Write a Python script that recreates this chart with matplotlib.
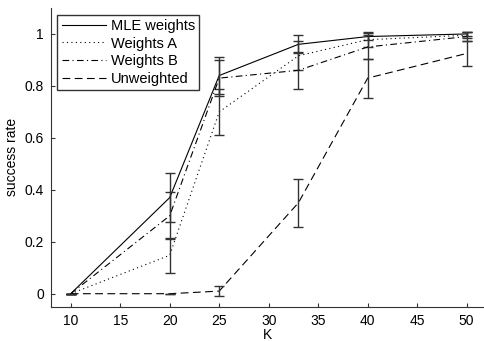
import numpy as np
import matplotlib
matplotlib.use('Agg')
import matplotlib.pyplot as plt

plt.rcParams['font.family'] = ['Liberation Sans', 'DejaVu Sans']

K = [10, 20, 25, 33, 40, 50]

mle = [0.0, 0.37, 0.84, 0.96, 0.99, 1.0]
mle_err = [0.0, 0.095, 0.07, 0.035, 0.015, 0.008]

weights_a = [0.0, 0.148, 0.70, 0.916, 0.978, 0.995]
weights_a_err = [0.0, 0.068, 0.09, 0.055, 0.028, 0.012]

weights_b = [0.0, 0.30, 0.83, 0.86, 0.95, 0.99]
weights_b_err = [0.0, 0.09, 0.07, 0.07, 0.046, 0.017]

unweighted = [0.0, 0.0, 0.01, 0.35, 0.83, 0.925]
unweighted_err = [0.0, 0.0, 0.02, 0.093, 0.075, 0.047]

series = [
    ('MLE weights', mle, mle_err, '-'),
    ('Weights A', weights_a, weights_a_err, (0, (1, 3))),
    ('Weights B', weights_b, weights_b_err, (0, (6, 3, 1, 3))),
    ('Unweighted', unweighted, unweighted_err, (0, (7, 4))),
]

fig = plt.figure(figsize=(4.85, 3.41), dpi=100)
ax = fig.add_axes([0.105, 0.1006, 0.895, 0.876])

for label, vals, err, ls in series:
    ax.plot(K, vals, color='black', linestyle=ls, linewidth=0.8, label=label)
    ax.errorbar(K, vals, yerr=err, fmt='none', ecolor='#333333',
                elinewidth=1.0, capsize=3.5, capthick=1.0)

ax.set_xlim(8, 51.85)
ax.set_ylim(-0.05, 1.1)
ax.set_xticks([10, 15, 20, 25, 30, 35, 40, 45, 50])
ax.set_yticks([0, 0.2, 0.4, 0.6, 0.8, 1.0])
ax.set_yticklabels(['0', '0.2', '0.4', '0.6', '0.8', '1'])
ax.tick_params(direction='in', length=3, labelsize=10, color='#333333', pad=5)
ax.spines['top'].set_visible(False)
ax.spines['right'].set_visible(False)
for s in ['left', 'bottom']:
    ax.spines[s].set_color('#333333')
    ax.spines[s].set_linewidth(0.8)

ax.set_xlabel('K', fontsize=10, labelpad=0)
ax.set_ylabel('success rate', fontsize=10, labelpad=4)

leg = ax.legend(loc='upper left', fontsize=10.5, frameon=True, fancybox=False,
                edgecolor='black', borderpad=0.3, labelspacing=0.25,
                handlelength=3.0, handletextpad=0.35, borderaxespad=0.45)
leg.get_frame().set_linewidth(1.0)

fig.savefig('out.png', dpi=100)
